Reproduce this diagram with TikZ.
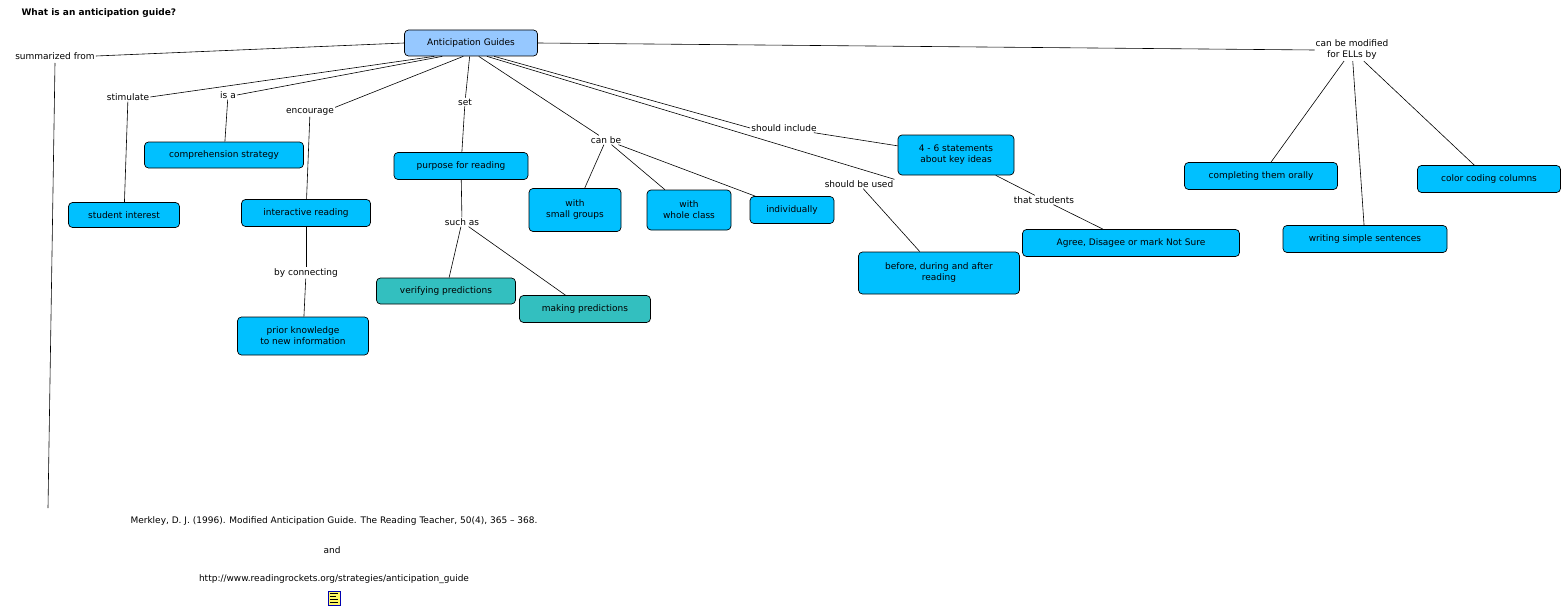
\documentclass[tikz,border=0pt]{standalone}
\usepackage{fontspec}
\setmainfont{DejaVu Sans}
\begin{document}
\begin{tikzpicture}[x=1pt,y=-1pt,
  every node/.style={font=\fontsize{9}{11}\selectfont},
  box/.style={draw=black,rounded corners=4pt,fill=cy,align=center,inner sep=0pt,line width=0.7pt},
  tl/.style={fill=tealc},
  lab/.style={inner sep=1pt,align=center,fill=white},
  ln/.style={draw=black,line width=0.6pt}]
\definecolor{cy}{RGB}{0,192,255}
\definecolor{tealc}{RGB}{51,191,191}
\definecolor{agc}{RGB}{150,200,255}
\useasboundingbox (0,0) rectangle (1564,610);
\node[anchor=west,font=\bfseries\fontsize{9}{11}\selectfont] (title) at (18,13) {What is an anticipation guide?};
\node[box,fill=agc,minimum width=133pt,minimum height=26pt] (ag) at (471,43) {Anticipation Guides};
% nodes
\node[box,minimum width=111pt,minimum height=25pt] (si) at (124,215) {student interest};
\node[box,minimum width=159pt,minimum height=26pt] (cs) at (224,155) {comprehension strategy};
\node[box,minimum width=129pt,minimum height=27pt] (ir) at (306,213) {interactive reading};
\node[box,minimum width=131pt,minimum height=38pt] (pk) at (303,336) {prior knowledge\\to new information};
\node[box,minimum width=134pt,minimum height=27pt] (pr) at (461,166) {purpose for reading};
\node[box,tl,minimum width=139pt,minimum height=26pt] (vp) at (446,291) {verifying predictions};
\node[box,tl,minimum width=131pt,minimum height=27pt] (mp) at (585,309) {making predictions};
\node[box,minimum width=92pt,minimum height=43pt] (sg) at (575,210) {with\\small groups};
\node[box,minimum width=84pt,minimum height=40pt] (wc) at (689,210) {with\\whole class};
\node[box,minimum width=84pt,minimum height=27pt] (iv) at (792,210) {individually};
\node[box,minimum width=116pt,minimum height=40pt] (st) at (956,155) {4 - 6 statements\\about key ideas};
\node[box,minimum width=161pt,minimum height=42pt] (bd) at (939,273) {before, during and after\\reading};
\node[box,minimum width=217pt,minimum height=27pt] (ad) at (1131,243) {Agree, Disagee or mark Not Sure};
\node[box,minimum width=153pt,minimum height=27pt] (co) at (1261,176) {completing them orally};
\node[box,minimum width=164pt,minimum height=27pt] (ws) at (1365,239) {writing simple sentences};
\node[box,minimum width=143pt,minimum height=27pt] (cc) at (1489,179) {color coding columns};
% labels
\node[lab] (lsf) at (55,56) {summarized from};
\node[lab] (lst) at (128,97) {stimulate};
\node[lab] (lis) at (228,95) {is a};
\node[lab] (len) at (310,112) {encourage};
\node[lab] (lse) at (465,102) {set};
\node[lab] (lsa) at (462,222) {such as};
\node[lab] (lbc) at (306,273) {by connecting};
\node[lab] (lcb) at (606,140) {can be};
\node[lab] (lsi) at (784,128) {should include};
\node[lab] (lsu) at (859,184) {should be used};
\node[lab] (lts) at (1044,200) {that students};
\node[lab] (lcm) at (1352,50) {can be modified\\for ELLs by};
\node (merk) at (334,521) {Merkley, D. J. (1996). Modified Anticipation Guide. The Reading Teacher, 50(4), 365 -- 368.};
\node (and) at (332,550) {and};
\node (url) at (334,579) {http://www.readingrockets.org/strategies/anticipation\_guide};
\node[draw=blue!70!black,fill=yellow!60,minimum width=12pt,minimum height=14pt,inner sep=0pt,line width=0.8pt] (ic) at (334,598) {};
\draw[line width=0.5pt] (330,593)--(338,593) (330,596)--(336,596) (330,599)--(338,599) (330,602)--(338,602);
\coordinate (mend) at (48,508);
% connectors
\begin{scope}[on background layer/.style={}]
\path[ln] (ag.west) -- (lsf.east);
\path[ln] (lsf.south west) ++(0,0) coordinate (tmp);
\draw[line width=0.6pt] (55,63) -- (mend);
\path[ln] (ag.200) -- (lst.east);
\path[ln] (lst) -- (si);
\path[ln] (ag.205) -- (lis.east);
\path[ln] (lis) -- (cs);
\path[ln] (ag.240) -- (len.north east);
\path[ln] (len) -- (ir);
\path[ln] (ir) -- (lbc);
\path[ln] (lbc) -- (pk);
\path[ln] (ag) -- (lse);
\path[ln] (lse) -- (pr);
\path[ln] (pr) -- (lsa);
\path[ln] (lsa) -- (vp);
\path[ln] (lsa) -- (mp);
\path[ln] (ag.300) -- (lcb);
\path[ln] (lcb) -- (sg);
\path[ln] (lcb) -- (wc);
\path[ln] (lcb) -- (iv);
\path[ln] (ag.330) -- (lsi.west);
\path[ln] (lsi) -- (st);
\path[ln] (ag.320) -- (lsu.north east);
\path[ln] (lsu) -- (bd);
\path[ln] (st) -- (lts);
\path[ln] (lts) -- (ad);
\path[ln] (ag.east) -- (lcm.west);
\path[ln] (lcm) -- (co);
\path[ln] (lcm) -- (ws);
\path[ln] (lcm) -- (cc);
\end{scope}
\end{tikzpicture}
\end{document}
